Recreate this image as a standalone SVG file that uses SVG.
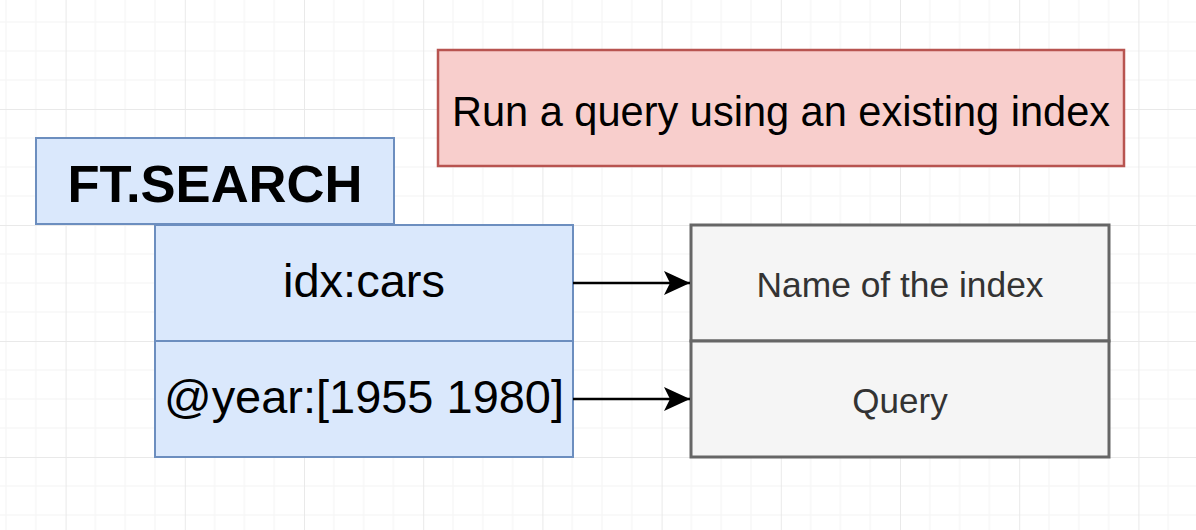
<svg xmlns="http://www.w3.org/2000/svg" width="1196" height="530" viewBox="0 0 1196 530">
  <defs>
    <pattern id="grid" patternUnits="userSpaceOnUse" x="304" y="109" width="119.2" height="116">
      <g stroke="#f3f3f3" stroke-width="1">
        <line x1="29.8" y1="0" x2="29.8" y2="116"/>
        <line x1="59.6" y1="0" x2="59.6" y2="116"/>
        <line x1="89.4" y1="0" x2="89.4" y2="116"/>
        <line x1="0" y1="29" x2="119.2" y2="29"/>
        <line x1="0" y1="58" x2="119.2" y2="58"/>
        <line x1="0" y1="87" x2="119.2" y2="87"/>
      </g>
      <g stroke="#e9e9e9" stroke-width="1">
        <line x1="0.5" y1="0" x2="0.5" y2="116"/>
        <line x1="0" y1="0.5" x2="119.2" y2="0.5"/>
      </g>
    </pattern>
    <marker id="arrow" markerUnits="userSpaceOnUse" markerWidth="30" markerHeight="30" refX="26" refY="12" orient="auto">
      <path d="M26,12 L0,0 L6,12 L0,24 Z" fill="#000"/>
    </marker>
  </defs>
  <style>
    .blue { fill: #dae8fc; stroke: #6c8ebf; stroke-width: 2; }
    .red { fill: #f8cecc; stroke: #b85450; stroke-width: 2.5; }
    .gray { fill: #f5f5f5; stroke: #666666; stroke-width: 3; }
    .t { font-family: "Liberation Sans", Arial, Helvetica, sans-serif; text-anchor: middle; fill: #000; }
    .tg { font-family: "Liberation Sans", Arial, Helvetica, sans-serif; text-anchor: middle; fill: #333333; font-size: 35px; }
    .conn { stroke: #000; stroke-width: 2.5; fill: none; }
  </style>
  <rect x="0" y="0" width="1196" height="530" fill="#ffffff"/>
  <rect x="0" y="0" width="1196" height="530" fill="url(#grid)"/>

  <g id="note">
    <rect class="red" x="438" y="50" width="686" height="116"/>
    <text class="t" x="781" y="126" font-size="42" textLength="658" lengthAdjust="spacingAndGlyphs">Run a query using an existing index</text>
  </g>

  <g id="ftsearch">
    <rect class="blue" x="36" y="138" width="358" height="86"/>
    <text class="t" x="215" y="202" font-size="52" font-weight="bold" textLength="295" lengthAdjust="spacingAndGlyphs">FT.SEARCH</text>
  </g>

  <g id="idx">
    <rect class="blue" x="155" y="225" width="418" height="116"/>
    <text class="t" x="364" y="297" font-size="47">idx:cars</text>
  </g>

  <g id="year">
    <rect class="blue" x="155" y="341" width="418" height="116"/>
    <text class="t" x="364" y="413" font-size="47" textLength="400" lengthAdjust="spacingAndGlyphs">@year:[1955 1980]</text>
  </g>

  <g id="name">
    <rect class="gray" x="691" y="225" width="418" height="116"/>
    <text class="tg" x="900" y="297" textLength="287" lengthAdjust="spacingAndGlyphs">Name of the index</text>
  </g>

  <g id="query">
    <rect class="gray" x="691" y="341" width="418" height="116"/>
    <text class="tg" x="900" y="413">Query</text>
  </g>

  <g id="connectors">
    <line class="conn" x1="573" y1="283" x2="690" y2="283" marker-end="url(#arrow)"/>
    <line class="conn" x1="573" y1="399" x2="690" y2="399" marker-end="url(#arrow)"/>
  </g>
</svg>
